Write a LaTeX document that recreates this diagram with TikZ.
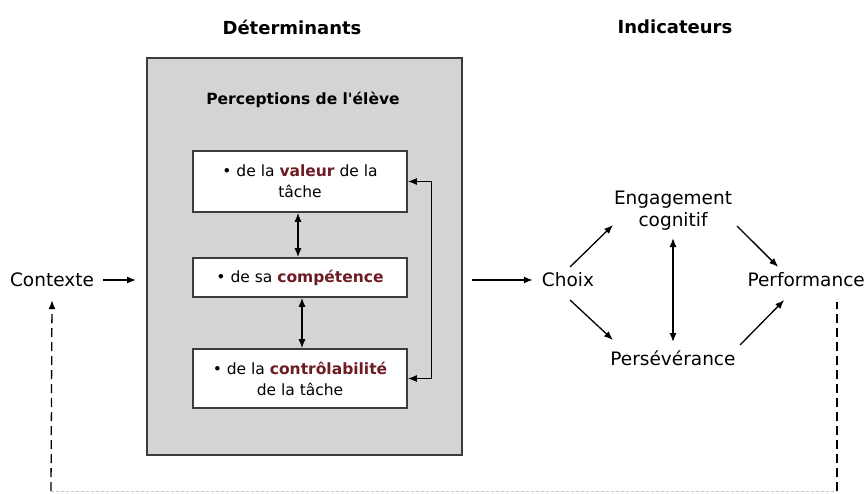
\documentclass[tikz,border=0pt]{standalone}
\usepackage{fontspec}
\setmainfont{DejaVu Sans}
\usetikzlibrary{arrows.meta,positioning,calc}
\definecolor{darkred}{RGB}{110,28,36}
\definecolor{panel}{RGB}{212,212,212}
\definecolor{edge}{RGB}{60,60,60}
\begin{document}
\begin{tikzpicture}[x=1pt,y=1pt,
  arr/.style={line width=1.3pt,-{Latex[length=9pt,width=7pt]}},
  biarr/.style={line width=1.3pt,{Latex[length=9pt,width=7pt]}-{Latex[length=9pt,width=7pt]}},
  title/.style={font=\fontsize{18}{20}\selectfont\bfseries},
  lab/.style={font=\fontsize{18.5}{22}\selectfont, inner sep=1pt},
  inbox/.style={draw=edge,line width=1.6pt,fill=white,minimum width=214pt,align=center,
    font=\fontsize{15.5}{21}\selectfont, inner sep=2pt},
  hl/.style={text=darkred}]
\useasboundingbox (0,0) rectangle (866,-494);
\fill[white] (0,0) rectangle (866,-494);

\node[title] (tdet) at (292,-27) {Déterminants};
\node[title] (tind) at (675,-27) {Indicateurs};

\node[draw=edge,line width=2pt,fill=panel,minimum width=315pt,minimum height=397pt,inner sep=0pt] (panel) at (304.5,-256.5) {};
\node[font=\fontsize{15.5}{18}\selectfont\bfseries] (perc) at (303,-100) {Perceptions de l\textquotesingle élève};

\node[inbox,minimum height=61pt] (b1) at (300,-181.5) {• de la \textbf{\color{darkred}valeur} de la\\tâche};
\node[inbox,minimum height=39pt] (b2) at (300,-277.5) {• de sa \textbf{\color{darkred}compétence}};
\node[inbox,minimum height=59pt] (b3) at (300,-378.5) {• de la \textbf{\color{darkred}contrôlabilité}\\de la tâche};

\draw[biarr] ([xshift=-2pt]b1.south) -- ([xshift=-2pt]b2.north);
\draw[biarr] ([xshift=2pt]b2.south) -- ([xshift=2pt]b3.north);
\draw[biarr] (b1.east) -- ++(24,0) |- (b3.east);

\node[lab] (ctx) at (52,-280) {Contexte};
\draw[arr] ([xshift=8pt]ctx.east) -- ([xshift=-10pt]panel.west |- ctx.east);

\node[lab] (choix) at (568,-280) {Choix};
\draw[arr] ([xshift=9pt]panel.east |- choix.west) -- ([xshift=-8pt]choix.west);

\node[lab,align=center,font=\fontsize{18.5}{22}\selectfont] (eng) at (673,-211) {Engagement\\cognitif};
\node[lab] (pers) at (673,-358) {Persévérance};
\node[lab,anchor=east] (perf) at (866,-280) {Performance};

\draw[arr] ([shift={(2pt,13pt)}]choix.center) -- ([shift={(-60pt,-14pt)}]eng.center);
\draw[arr] ([shift={(2pt,-20pt)}]choix.center) -- ([shift={(-60pt,18pt)}]pers.center);
\draw[arr] ([shift={(64pt,-15pt)}]eng.center) -- ([shift={(-28pt,13pt)}]perf.center);
\draw[arr] ([shift={(67pt,13pt)}]pers.center) -- ([shift={(-22pt,-20pt)}]perf.center);
\draw[biarr] ([yshift=-27pt]eng.center) -- ([yshift=16pt]pers.center);

\coordinate (bl) at (51,-491);
\coordinate (br) at (837,-491);
\draw[line width=1.3pt,dash pattern=on 9pt off 5pt] (br) -- (br |- 0,-302);
\draw[line width=1.3pt,dash pattern=on 9pt off 5pt,-{Latex[length=9pt,width=7pt]}] (bl) -- ([yshift=-12pt]ctx.south);
\draw[line width=0.8pt,gray!45,dash pattern=on 3pt off 2pt] (bl) -- (br);
\end{tikzpicture}
\end{document}
